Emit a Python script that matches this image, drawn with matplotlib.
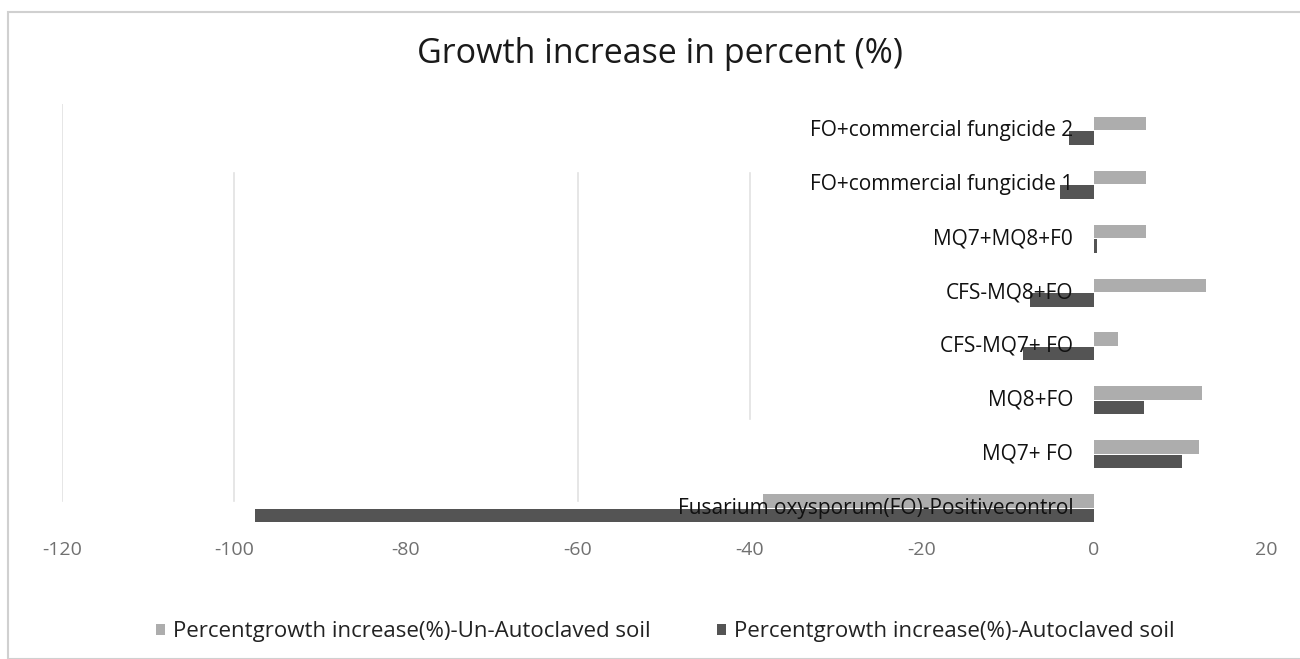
import matplotlib
matplotlib.use("Agg")
import matplotlib.pyplot as plt
import matplotlib.transforms as mtransforms
from matplotlib.patches import Rectangle
import numpy as np

categories = [
    "Fusarium oxysporum(FO)-Positivecontrol",
    "MQ7+ FO",
    "MQ8+FO",
    "CFS-MQ7+ FO",
    "CFS-MQ8+FO",
    "MQ7+MQ8+F0",
    "FO+commercial fungicide 1",
    "FO+commercial fungicide 2",
]
unautoclaved = [-38.5, 12.2, 12.6, 2.8, 13.0, 6.0, 6.0, 6.0]
autoclaved = [-97.6, 10.2, 5.8, -8.2, -7.5, 0.3, -4.0, -2.9]
series_names = [
    "Percentgrowth increase(%)-Un-Autoclaved soil",
    "Percentgrowth increase(%)-Autoclaved soil",
]
xticks = [-120, -100, -80, -60, -40, -20, 0, 20]
title = "Growth increase in percent (%)"

FONT = ["Open Sans", "DejaVu Sans"]

fig = plt.figure(figsize=(13.0, 6.59), dpi=100)
fig.patch.set_facecolor("white")

# chart-area frame
fig.patches.append(Rectangle((8 / 1300, 0.0), 1.0, 1 - 12 / 659,
                             transform=fig.transFigure, fill=False,
                             edgecolor="#d0d0d0", linewidth=1.5))

ax = fig.add_axes([62 / 1300, 1 - 535 / 659, (1266 - 62) / 1300, 431 / 659])
ax.set_xlim(-120, 20)
ax.set_ylim(-0.5, len(categories) - 0.5)

y = np.arange(len(categories))
h = 0.25
light = "#adadad"
dark = "#545454"
ax.barh(y + h / 2 + 0.01, unautoclaved, height=h, color=light, zorder=2,
        label=series_names[0])
ax.barh(y - h / 2 - 0.01, autoclaved, height=h, color=dark, zorder=2,
        label=series_names[1])

# faint vertical gridlines
for xv, y0, y1 in [(-120, 0.08, 1.0), (-100, 0.08, 0.84), (-60, 0.08, 0.84),
                   (-40, 0.27, 0.84)]:
    ax.axvline(xv, ymin=y0, ymax=y1, color="#e2e2e2", linewidth=1.2, zorder=1)

# category labels beside the zero line
lab_tr = mtransforms.offset_copy(ax.transData, fig=fig, x=-15, y=0, units="points")
for yi, name in zip(y, categories):
    ax.text(0, yi, name, transform=lab_tr, ha="right", va="center",
            fontsize=15, family=FONT, color="#111111", zorder=3)

ax.set_yticks([])
ax.set_xticks(xticks)
ax.set_xticklabels([str(t) for t in xticks], family=FONT, fontsize=14,
                   color="#707070")
ax.tick_params(axis="x", length=0, pad=4)
for s in ax.spines.values():
    s.set_visible(False)

fig.text(0.508, 1 - 54 / 659, title, ha="center", va="center", fontsize=24.5,
         family=FONT, color="#1a1a1a")

leg = ax.legend(loc="center", bbox_to_anchor=(0.512, 1 - 632 / 659),
                bbox_transform=fig.transFigure, ncol=2, frameon=False,
                prop={"family": FONT, "size": 16}, handlelength=0.4,
                handleheight=0.4, handletextpad=0.35, columnspacing=3.0)
for t in leg.get_texts():
    t.set_color("#222222")

fig.savefig("out.png", dpi=100, facecolor="white")
